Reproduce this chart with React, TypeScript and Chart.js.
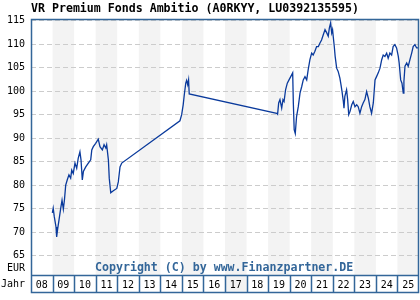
import React, { useEffect, useRef } from "react";
import { Chart, registerables } from "chart.js";

Chart.register(...registerables);

const TITLE = "VR Premium Fonds Ambitio (A0RKYY, LU0392135595)";
const COPYRIGHT = "Copyright (C) by www.Finanzpartner.DE";
const yTicks = [65, 70, 75, 80, 85, 90, 95, 100, 105, 110, 115];
const years = [2008, 2009, 2010, 2011, 2012, 2013, 2014, 2015, 2016, 2017, 2018, 2019, 2020, 2021, 2022, 2023, 2024, 2025];

const dates = [
  2008.99, 2009.03, 2009.08, 2009.16, 2009.19, 2009.24, 2009.30, 2009.38, 2009.44, 2009.50, 2009.55, 2009.61, 2009.68, 2009.76, 2009.84, 2009.89, 2009.96,
  2010.04, 2010.12, 2010.19, 2010.27, 2010.32, 2010.38, 2010.43, 2010.54, 2010.66, 2010.77, 2010.82, 2010.89,
  2011.00, 2011.12, 2011.20, 2011.31, 2011.39, 2011.47, 2011.51, 2011.59, 2011.63, 2011.70, 2011.82, 2011.98,
  2012.05, 2012.13, 2012.21,
  2014.91, 2014.99, 2015.06, 2015.11, 2015.18, 2015.22, 2015.27, 2015.31, 2015.34,
  2019.40, 2019.44, 2019.49, 2019.55, 2019.63, 2019.69, 2019.74, 2019.81, 2019.89, 2019.97,
  2020.05, 2020.14, 2020.17, 2020.21, 2020.26, 2020.32, 2020.40, 2020.48, 2020.56, 2020.63, 2020.71, 2020.79, 2020.86, 2020.94,
  2021.02, 2021.09, 2021.17, 2021.25, 2021.33, 2021.40, 2021.48, 2021.56, 2021.64, 2021.72, 2021.79, 2021.84, 2021.90, 2021.95, 2021.99,
  2022.02, 2022.07, 2022.11, 2022.18, 2022.25, 2022.33, 2022.38, 2022.43, 2022.49, 2022.52, 2022.56, 2022.64, 2022.69, 2022.74, 2022.80, 2022.88, 2022.95,
  2023.03, 2023.11, 2023.18, 2023.26, 2023.34, 2023.41, 2023.49, 2023.57, 2023.65, 2023.72, 2023.80, 2023.88, 2023.96,
  2024.03, 2024.11, 2024.19, 2024.27, 2024.34, 2024.42, 2024.50, 2024.57, 2024.65, 2024.73, 2024.80, 2024.88, 2024.96,
  2025.04, 2025.08, 2025.15, 2025.21, 2025.27, 2025.30, 2025.35, 2025.43, 2025.50, 2025.58, 2025.66, 2025.73, 2025.81, 2025.89, 2025.96,
];

const values = [
  74.1, 75.1, 73.3, 71.1, 69.0, 70.8, 72.6, 75.1, 76.8, 74.9, 76.8, 80.0, 81.1, 82.2, 81.5, 83.2, 82.5,
  84.7, 83.6, 85.7, 87.1, 85.4, 81.1, 82.9, 83.9, 84.7, 85.4, 87.5, 88.2,
  88.9, 89.8, 88.2, 87.5, 88.6, 87.9, 88.6, 85.4, 81.5, 78.4, 78.8, 79.3,
  80.7, 83.9, 84.7,
  93.7, 95.0, 97.1, 99.2, 101.7, 102.3, 101.4, 102.4, 99.4,
  95.3, 95.1, 97.5, 98.2, 96.4, 98.2, 97.8, 100.3, 101.7, 102.4,
  103.1, 103.9, 97.5, 91.8, 91.0, 94.6, 96.7, 99.6, 101.0, 102.4, 103.1, 102.4, 104.6, 106.7,
  108.1, 107.7, 108.5, 109.5, 109.5, 110.2, 110.9, 112.0, 113.1, 112.4, 111.7, 113.4, 114.5, 112.4, 113.1,
  111.7, 109.5, 107.4, 104.9, 104.2, 102.8, 101.4, 99.9, 97.8, 96.4, 98.9, 100.3, 98.2, 95.0, 95.7, 97.1, 97.8,
  96.7, 97.1, 96.7, 95.3, 96.7, 97.5, 98.2, 99.9, 98.5, 96.7, 95.3, 97.5, 102.4,
  103.1, 103.9, 104.9, 106.7, 107.7, 107.4, 108.1, 107.0, 108.1, 107.7, 109.5, 109.9, 109.2,
  107.4, 106.0, 102.4, 101.7, 99.6, 102.1, 105.3, 106.0, 105.3, 106.7, 108.1, 109.5, 109.9, 109.2, 109.2,
];

const FRAME = "#336699";
const MONO = '"DejaVu Sans Mono", monospace';

const decorPlugin = {
  id: "decor",
  beforeDraw(chart: any) {
    const { ctx, chartArea: a, scales } = chart;
    const x = scales.x;
    ctx.save();
    ctx.fillStyle = "#ffffff";
    ctx.fillRect(0, 0, chart.width, chart.height);
    ctx.fillStyle = "#f3f3f3";
    years.forEach((yr) => {
      if (yr % 2 === 1) {
        const l = x.getPixelForValue(yr);
        const r = x.getPixelForValue(yr + 1);
        ctx.fillRect(l, a.top, r - l, a.bottom - a.top);
      }
    });
    // shaded 17 cell
    const l17 = x.getPixelForValue(2017);
    const r17 = x.getPixelForValue(2018);
    ctx.fillRect(l17, a.bottom, r17 - l17, 17);
    ctx.restore();
  },
  afterDraw(chart: any) {
    const { ctx, chartArea: a, scales } = chart;
    const x = scales.x;
    ctx.save();
    ctx.strokeStyle = FRAME;
    ctx.lineWidth = 1.5;
    ctx.beginPath();
    ctx.moveTo(a.left + 0.5, a.top + 0.5);
    ctx.lineTo(a.right - 0.5, a.top + 0.5);
    ctx.lineTo(a.right - 0.5, a.bottom + 17.5);
    ctx.lineTo(a.left + 0.5, a.bottom + 17.5);
    ctx.closePath();
    ctx.moveTo(a.left, a.bottom + 0.5);
    ctx.lineTo(a.right, a.bottom + 0.5);
    years.forEach((yr) => {
      if (yr > years[0]) {
        const px = Math.round(x.getPixelForValue(yr)) + 0.5;
        ctx.moveTo(px, a.bottom);
        ctx.lineTo(px, a.bottom + 17.5);
      }
    });
    ctx.stroke();

    ctx.fillStyle = "#000";
    ctx.font = `bold 11.6px ${MONO}`;
    ctx.textBaseline = "middle";
    ctx.textAlign = "left";
    ctx.fillText(TITLE, 31, 9);

    ctx.font = `10px ${MONO}`;
    ctx.textAlign = "right";
    ctx.fillText("EUR", 25, 268);
    ctx.fillText("Jahr", 25, 284);

    ctx.fillStyle = FRAME;
    ctx.font = `bold 11.6px ${MONO}`;
    ctx.textAlign = "left";
    ctx.fillText(COPYRIGHT, 95, 268);
    ctx.restore();
  },
};

export default function App() {
  const ref = useRef<HTMLCanvasElement>(null);
  useEffect(() => {
    document.body.style.margin = "0";
    const chart = new Chart(ref.current!, {
      type: "line",
      data: {
        datasets: [
          {
            data: dates.map((d, i) => ({ x: d, y: values[i] })),
            borderColor: "#0a3a9c",
            borderWidth: 1.3,
            pointRadius: 0,
            tension: 0,
            fill: false,
          },
        ],
      },
      options: {
        animation: false,
        responsive: false,
        devicePixelRatio: 1,
        layout: { padding: { top: 19, right: 1, left: 0, bottom: 0 } },
        plugins: { legend: { display: false }, tooltip: { enabled: false }, title: { display: false } },
        scales: {
          x: {
            type: "linear",
            min: 2008,
            max: 2026,
            afterFit: (s: any) => {
              s.height = 25;
            },
            afterBuildTicks: (s: any) => {
              s.ticks = years.map((y) => ({ value: y + 0.5 }));
            },
            grid: { display: false, drawTicks: false },
            border: { display: false },
            ticks: {
              autoSkip: false,
              maxRotation: 0,
              padding: 4,
              color: "#000",
              font: { family: MONO, size: 10 },
              callback: (v: any) => String(Math.floor(Number(v)) % 100).padStart(2, "0"),
            },
          },
          y: {
            type: "linear",
            min: 60.89,
            max: 115.36,
            afterFit: (s: any) => {
              s.width = 31;
            },
            afterBuildTicks: (s: any) => {
              s.ticks = yTicks.map((v) => ({ value: v }));
            },
            grid: { color: "#cccccc", drawTicks: false, lineWidth: 1 },
            border: { display: false, dash: [5, 3] },
            ticks: {
              padding: 6,
              color: "#000",
              font: { family: MONO, size: 10 },
              callback: (v: any) => String(v),
            },
          },
        },
      },
      plugins: [decorPlugin],
    });
    return () => chart.destroy();
  }, []);
  return (
    <div style={{ position: "fixed", left: 0, top: 0, width: 420, height: 300, background: "#fff" }}>
      <canvas ref={ref} width={420} height={300} style={{ display: "block" }} />
    </div>
  );
}
